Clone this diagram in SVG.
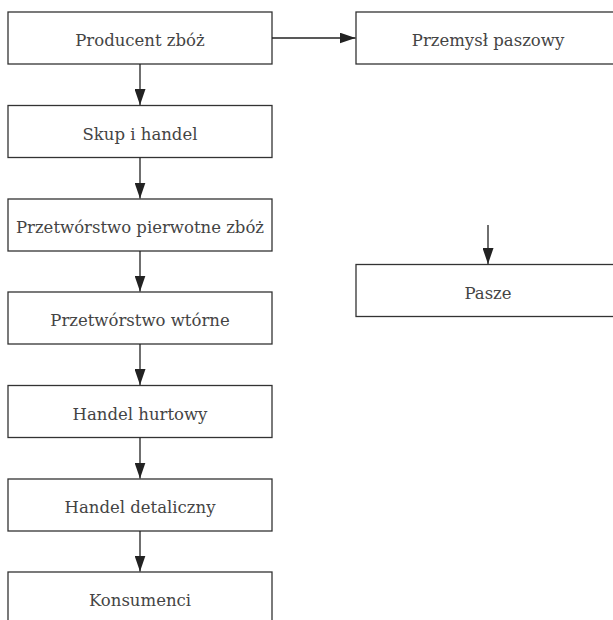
<svg xmlns="http://www.w3.org/2000/svg" width="613" height="620" viewBox="0 0 613 620">
<style>
.box{fill:#fff;stroke:#333;stroke-width:1.3}
.lbl{font-family:"DejaVu Serif","Liberation Serif",serif;font-size:16.5px;fill:#444;text-anchor:middle}
.con{stroke:#222;stroke-width:1.3;fill:none}
</style>
<defs>
<marker id="ah" markerWidth="16" markerHeight="11" refX="16" refY="5.5" orient="auto" markerUnits="userSpaceOnUse" viewBox="0 0 16 11">
<path d="M0,0 L16,5.5 L0,11 Z" fill="#222"/>
</marker>
</defs>
<rect width="613" height="620" fill="#fff"/>
<g id="n1"><rect class="box" x="8" y="12" width="264" height="52"/><text class="lbl" x="140" y="46">Producent zbóż</text></g>
<g id="n2"><rect class="box" x="8" y="105.5" width="264" height="52"/><text class="lbl" x="140" y="139.5">Skup i handel</text></g>
<g id="n3"><rect class="box" x="8" y="199" width="264" height="52"/><text class="lbl" x="140" y="233">Przetwórstwo pierwotne zbóż</text></g>
<g id="n4"><rect class="box" x="8" y="292" width="264" height="52"/><text class="lbl" x="140" y="326">Przetwórstwo wtórne</text></g>
<g id="n5"><rect class="box" x="8" y="385.5" width="264" height="52"/><text class="lbl" x="140" y="419.5">Handel hurtowy</text></g>
<g id="n6"><rect class="box" x="8" y="479" width="264" height="52"/><text class="lbl" x="140" y="513">Handel detaliczny</text></g>
<g id="n7"><rect class="box" x="8" y="572" width="264" height="60"/><text class="lbl" x="140" y="606">Konsumenci</text></g>
<g id="n8"><rect class="box" x="356" y="12" width="270" height="52"/><text class="lbl" x="488" y="46">Przemysł paszowy</text></g>
<g id="n9"><rect class="box" x="356" y="264.5" width="270" height="52"/><text class="lbl" x="488" y="298.5">Pasze</text></g>
<g id="connectors">
<line class="con" x1="140" y1="64" x2="140" y2="105" marker-end="url(#ah)"/>
<line class="con" x1="140" y1="157.5" x2="140" y2="198.5" marker-end="url(#ah)"/>
<line class="con" x1="140" y1="251" x2="140" y2="291.5" marker-end="url(#ah)"/>
<line class="con" x1="140" y1="344" x2="140" y2="385" marker-end="url(#ah)"/>
<line class="con" x1="140" y1="437.5" x2="140" y2="478.5" marker-end="url(#ah)"/>
<line class="con" x1="140" y1="531" x2="140" y2="571.5" marker-end="url(#ah)"/>
<line class="con" x1="272" y1="38" x2="355.5" y2="38" marker-end="url(#ah)"/>
<line class="con" x1="488" y1="225" x2="488" y2="264" marker-end="url(#ah)"/>
</g>
</svg>
